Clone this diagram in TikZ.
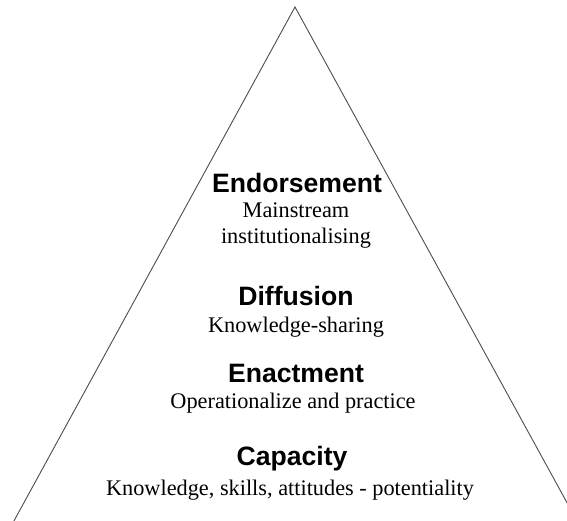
\documentclass[tikz,border=0pt]{standalone}
\usepackage{fontspec}
\setmainfont{Liberation Serif}
\newfontfamily\headfont{Liberation Sans}

\tikzset{
  level title/.style={font=\headfont\bfseries\fontsize{26.6}{28}\selectfont,
                      inner sep=0pt, anchor=base},
  level note/.style={font=\fontsize{22.3}{26}\selectfont, align=center,
                     inner sep=0pt, anchor=base},
  pyramid side/.style={draw=black!70, line width=0.9pt},
}

\begin{document}
\begin{tikzpicture}[x=1pt, y=-1pt]
    \useasboundingbox (0,0) rectangle (567,520);
    \clip (0,0) rectangle (567,520);

    % ======== PYRAMID ========
    \coordinate (apex) at (295,7);
    \coordinate (foot left) at (9,530);
    \coordinate (foot right) at (582,530);
    \draw[pyramid side] (foot left) -- (apex) -- (foot right);

    % ======== LEVELS (top to bottom) ========
    % base of a two-line note sits on its last line
    \node[level title] (endorse) at (297,192) {Endorsement};
    \node[level note] (endorse note) at (296,243)
      {Mainstream\\institutionalising};

    \node[level title] (diffuse) at (296,305) {Diffusion};
    \node[level note] (diffuse note) at (296,332) {Knowledge-sharing};

    \node[level title] (enact) at (296,382) {Enactment};
    \node[level note] (enact note) at (293,408) {Operationalize and practice};

    \node[level title] (capacity) at (292,465) {Capacity};
    \node[level note] (capacity note) at (290,495)
      {Knowledge, skills, attitudes - potentiality};

\end{tikzpicture}
\end{document}
